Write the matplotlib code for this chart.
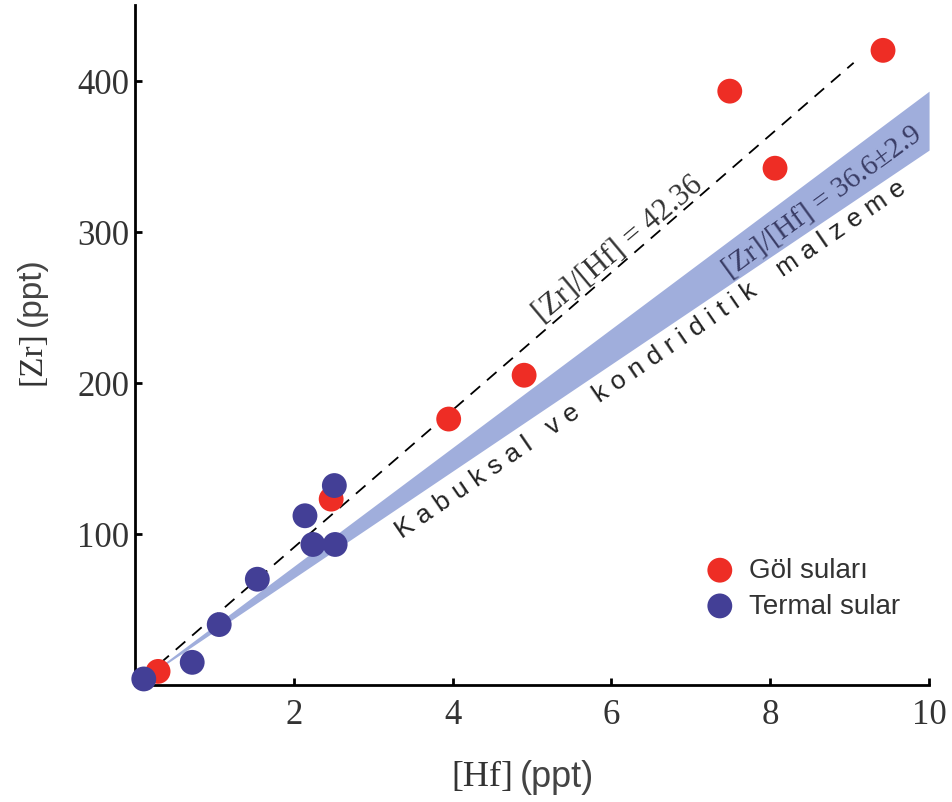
import numpy as np
import matplotlib
matplotlib.use("Agg")
import matplotlib.pyplot as plt

# lake waters (Göl suları)
gol_hf = [0.29, 2.47, 3.95, 4.90, 7.49, 8.06, 9.42]
gol_zr = [9, 123, 176, 205, 393, 342, 420]

# thermal waters (Termal sular)
termal_hf = [0.11, 0.72, 1.06, 1.54, 2.14, 2.24, 2.52, 2.51]
termal_zr = [4, 15, 40, 70, 112, 93, 93, 132]

# dashed reference line and crustal/chondritic band
line_hf = [0.1, 9.05]
line_slope = 45.5
band_hf = [0.0, 10.0]
band_lo_slope = 35.4
band_hi_slope = 39.3

xticks = [2, 4, 6, 8, 10]
yticks = [100, 200, 300, 400]

serif = "Liberation Serif"
sans = "Liberation Sans"

fig = plt.figure(figsize=(9.53, 8.03), dpi=100)
ax = fig.add_axes([0.1417, 0.1457, 0.8332, 0.8468])

# band
bx = np.array(band_hf)
ax.fill_between(bx, bx * band_lo_slope, bx * band_hi_slope, color="#a0aedc", lw=0, zorder=1)

# dashed line
lx = np.array(line_hf)
ax.plot(lx, lx * line_slope, color="black", lw=1.3, ls=(0, (7, 5)), zorder=2)

ax.scatter(gol_hf, gol_zr, s=320, color="#ee2d25", edgecolors="none", zorder=3, clip_on=False,
           label="Göl suları")
ax.scatter(termal_hf, termal_zr, s=320, color="#433f96", edgecolors="none", zorder=4, clip_on=False,
           label="Termal sular")

ax.set_xlim(0, 10)
ax.set_ylim(0, 450)
ax.set_xticks(xticks)
ax.set_yticks(yticks)
ax.tick_params(direction="in", length=5, width=2, labelsize=25)
ax.tick_params(axis="x", pad=9)
ax.tick_params(axis="y", pad=4)
for lab in ax.get_xticklabels() + ax.get_yticklabels():
    lab.set_fontfamily(serif)
    lab.set_color("#333333")
for s in ["top", "right"]:
    ax.spines[s].set_visible(False)
for s in ["left", "bottom"]:
    ax.spines[s].set_linewidth(2)

# axis labels: serif bracket part + sans unit
ax.text(0.476, -0.134, "[Hf]", transform=ax.transAxes, fontsize=26, family=serif,
        color="#333333", ha="right", va="center")
ax.text(0.484, -0.134, "(ppt)", transform=ax.transAxes, fontsize=26, family=sans,
        color="#444444", ha="left", va="center")
ax.text(-0.130, 0.522, "[Zr]", transform=ax.transAxes, fontsize=24, family=serif,
        color="#333333", rotation=90, ha="center", va="top")
ax.text(-0.130, 0.530, "(ppt)", transform=ax.transAxes, fontsize=24, family=sans,
        color="#444444", rotation=90, ha="center", va="bottom")

# annotations along lines
ax.text(6.15, 285, "[Zr]/[Hf] = 42.36", fontsize=22, family=serif, color="#333333",
        rotation=40, rotation_mode="anchor", ha="center", va="baseline")
ax.text(8.66, 320, "[Zr]/[Hf] = 36.6±2.9", fontsize=21, family=serif, color="#3a3d66",
        rotation=36, rotation_mode="anchor", ha="center", va="center")
ax.text(6.5, 216, "K a b u k s a l   v e   k o n d r i d i t i k    m a l z e m e",
        fontsize=19, family=sans, color="#222222",
        rotation=34.5, rotation_mode="anchor", ha="center", va="center")

leg = ax.legend(loc="lower right", bbox_to_anchor=(0.995, 0.06), frameon=False,
                prop={"family": sans, "size": 20}, handletextpad=0.05, labelspacing=0.35,
                markerscale=1.0)
for t in leg.get_texts():
    t.set_color("#333333")

fig.savefig("out.png", dpi=100)
